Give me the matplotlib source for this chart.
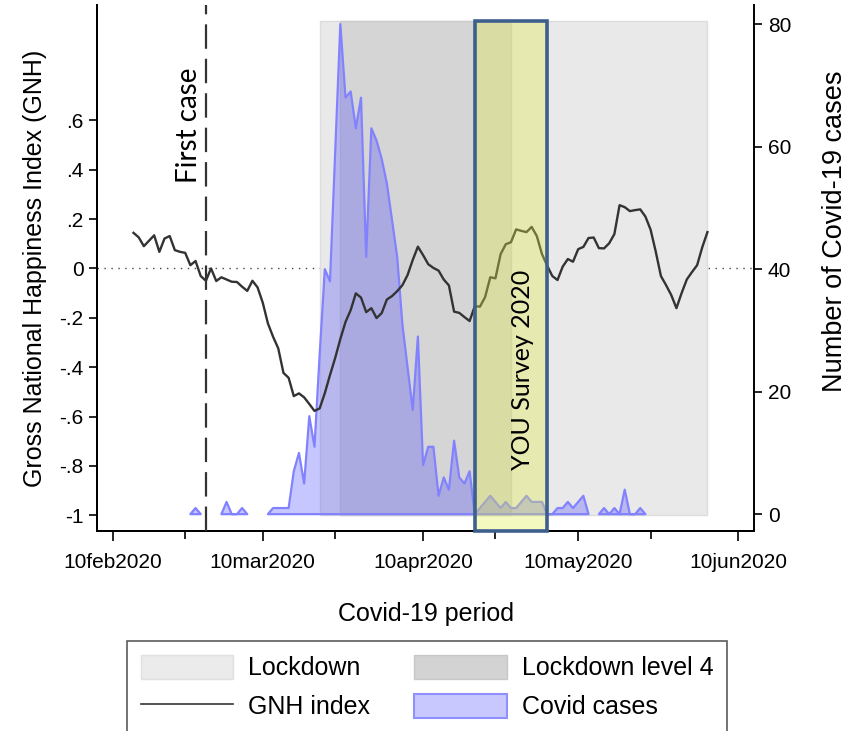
import numpy as np
import pandas as pd
import matplotlib
matplotlib.use("Agg")
import matplotlib.pyplot as plt
import matplotlib.dates as mdates
from matplotlib.patches import Patch, Rectangle
from matplotlib.lines import Line2D
from matplotlib.ticker import FuncFormatter, FixedLocator

plt.rcParams['font.family'] = ['Liberation Sans', 'DejaVu Sans']

# GNH index, daily from 14 Feb 2020
gnh_start = '2020-02-14'
gnh = [0.144, 0.126, 0.090, 0.112, 0.134, 0.067, 0.121, 0.131, 0.074, 0.067,
       0.063, 0.013, 0.030, -0.031, -0.050, 0.000, -0.051, -0.036, -0.045, -0.054,
       -0.055, -0.074, -0.091, -0.050, -0.077, -0.139, -0.223, -0.277, -0.324, -0.423,
       -0.443, -0.517, -0.506, -0.522, -0.549, -0.577, -0.567, -0.505, -0.432, -0.363,
       -0.286, -0.217, -0.169, -0.101, -0.118, -0.177, -0.161, -0.201, -0.181, -0.126,
       -0.112, -0.092, -0.068, -0.027, 0.034, 0.088, 0.054, 0.017, 0.002, -0.009,
       -0.045, -0.069, -0.175, -0.180, -0.197, -0.213, -0.153, -0.155, -0.116, -0.036,
       -0.040, 0.058, 0.098, 0.106, 0.158, 0.152, 0.147, 0.168, 0.131, 0.058,
       0.011, -0.031, -0.047, 0.007, 0.038, 0.027, 0.078, 0.087, 0.123, 0.125,
       0.082, 0.081, 0.102, 0.139, 0.256, 0.248, 0.232, 0.236, 0.239, 0.210,
       0.157, 0.068, -0.031, -0.068, -0.108, -0.161, -0.100, -0.045, -0.015, 0.013,
       0.086, 0.147]

# daily Covid-19 cases from 25 Feb 2020 (nan = not reported)
nan = np.nan
cases_start = '2020-02-25'
cases = [0, 1, 0, nan, nan, nan, 0, 2, 0, 0,
         1, 0, nan, nan, nan, 0, 1, 1, 1, 1,
         7, 10, 5, 16, 11, 26, 40, 38, 59, 80,
         68, 69, 63, 68, 42, 63, 61, 58, 54, 48,
         42, 31, 24, 17, 29, 8, 11, 11, 3, 6,
         4, 12, 6, 5, 7, 0, 1, 2, 3, 2,
         1, 2, 1, 1, 2, 3, 2, 2, 2, 0,
         0, 1, 1, 2, 1, 2, 3, 0, nan, 0,
         1, 0, 1, 0, 4, 0, 0, 1, 0]

first_case = '2020-02-28'
lockdown = ('2020-03-21', '2020-06-04')
level4 = ('2020-03-25', '2020-04-27')
survey = ('2020-04-20', '2020-05-04')

major_ticks = ['2020-02-10', '2020-03-10', '2020-04-10', '2020-05-10', '2020-06-10']
minor_ticks = ['2020-02-24', '2020-03-24', '2020-04-24', '2020-05-24']
gnh_ticks = [-1, -0.8, -0.6, -0.4, -0.2, 0, 0.2, 0.4, 0.6]
case_ticks = [0, 20, 40, 60, 80]

gnh_dates = pd.date_range(gnh_start, periods=len(gnh), freq='D')
case_dates = pd.date_range(cases_start, periods=len(cases), freq='D')


def dnum(s):
    return mdates.date2num(pd.Timestamp(s))


def stata_date(x, pos=None):
    d = mdates.num2date(x)
    return f"{d.day}{d.strftime('%b').lower()}{d.year}"


def stata_num(v, pos=None):
    s = f"{v:g}"
    return s.replace("0.", ".")


fig = plt.figure(figsize=(8.49, 7.31), dpi=100)
ax = fig.add_axes([0.1146, 0.274, 0.7735, 0.719])
ax2 = ax.twinx()
ax.set_zorder(ax2.get_zorder() + 1)
ax.patch.set_visible(False)

ax.set_xlim(dnum('2020-02-07'), dnum('2020-06-13'))
ax.set_ylim(-1.062, 1.066)
ax2.set_ylim(-2.7, 83.1)

# background layers (drawn in GNH units on the lower axes)
ax2.plot([dnum('2020-02-07'), dnum('2020-06-13')], [0, 0], transform=ax.transData,
         color='#444444', lw=1.0, dashes=(1, 4), zorder=1)
ax2.add_patch(Rectangle((dnum(lockdown[0]), -1), dnum(lockdown[1]) - dnum(lockdown[0]), 2,
                        transform=ax.transData, facecolor='#e9e9e9', edgecolor='#dddddd',
                        lw=1, zorder=2))
ax2.add_patch(Rectangle((dnum(level4[0]), -1), dnum(level4[1]) - dnum(level4[0]), 2,
                        transform=ax.transData, facecolor='#d5d5d5', edgecolor='#cccccc',
                        lw=1, zorder=2))

ax2.fill_between(case_dates, 0, np.array(cases, dtype=float),
                 facecolor=(72/255, 72/255, 1, 0.3), edgecolor='#8282ff', lw=1.6, zorder=3)

ax.plot(gnh_dates, gnh, color='#333333', lw=1.7, zorder=3)
ax.axvline(dnum(first_case), color='#333333', lw=1.6, dashes=(11, 4.5), zorder=3)

ax.add_patch(Rectangle((dnum(survey[0]), -1.062), dnum(survey[1]) - dnum(survey[0]), 2.062,
                       facecolor=(226/255, 238/255, 75/255, 0.35), edgecolor='#3d5f8c',
                       lw=2.6, zorder=5, clip_on=False))

ax.text(dnum('2020-02-24') + 0.8, 0.58, 'First case', rotation=90, ha='center', va='center',
        fontsize=20, family=['Lato', 'DejaVu Sans'], color='black', zorder=6)
ax.text(dnum('2020-04-29') + 0.2, -0.41, 'YOU Survey 2020', rotation=90, ha='center',
        va='center', fontsize=18, family=['Lato', 'DejaVu Sans'], color='black', zorder=6)

# axes styling
for a in (ax, ax2):
    a.spines['top'].set_visible(False)
    for s in a.spines.values():
        s.set_linewidth(1.4)
ax.spines['right'].set_visible(False)

ax.xaxis.set_major_locator(FixedLocator([dnum(t) for t in major_ticks]))
ax.xaxis.set_minor_locator(FixedLocator([dnum(t) for t in minor_ticks]))
ax.xaxis.set_major_formatter(FuncFormatter(stata_date))
ax.yaxis.set_major_locator(FixedLocator(gnh_ticks))
ax.yaxis.set_major_formatter(FuncFormatter(stata_num))
ax2.yaxis.set_major_locator(FixedLocator(case_ticks))

ax.tick_params(axis='x', which='major', length=7, width=1.2, labelsize=15, pad=9)
ax.tick_params(axis='x', which='minor', length=6, width=1.2)
ax.tick_params(axis='y', length=6, width=1.2, labelsize=15, pad=4)
ax2.tick_params(axis='y', length=6, width=1.2, labelsize=15, pad=4)

ax.set_xlabel('Covid-19 period', fontsize=18, labelpad=22)
ax.set_ylabel('Gross National Happiness Index (GNH)', fontsize=18, labelpad=9)
ax2.set_ylabel('Number of Covid-19 cases', fontsize=19.5)
ax2.yaxis.set_label_coords(1.103, 0.57)

handles = [Patch(facecolor='#ebebeb', edgecolor='#e0e0e0'),
           Line2D([], [], color='#333333', lw=1.2),
           Patch(facecolor='#d3d3d3', edgecolor='#c8c8c8'),
           Patch(facecolor='#c8c8ff', edgecolor='#9090ff', lw=1.5)]
labels = ['Lockdown', 'GNH index', 'Lockdown level 4', 'Covid cases']
leg = fig.legend(handles, labels, ncol=2, loc='upper left',
                 bbox_to_anchor=(127/849, 1 - 641/731), fontsize=18,
                 frameon=True, fancybox=False, edgecolor='#333333',
                 handlelength=3.7, handleheight=1.1, handletextpad=0.6,
                 columnspacing=1.75, labelspacing=0.55, borderpad=0.55,
                 borderaxespad=0)
leg.get_frame().set_linewidth(1.2)

fig.savefig('out.png', dpi=100, facecolor='white')
